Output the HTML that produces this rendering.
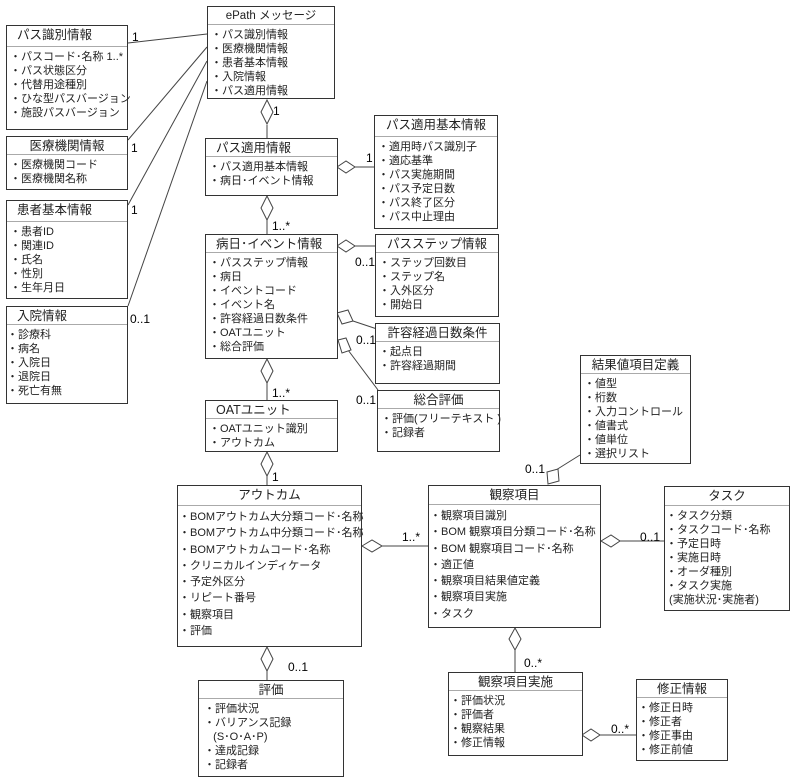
<!DOCTYPE html>
<html><head><meta charset="utf-8"><style>
body{margin:0;width:796px;height:777px;background:#fff;position:relative;overflow:hidden;font-family:"Liberation Sans","Noto Sans CJK JP",sans-serif;font-size:11px;color:#222}
.b{position:absolute;border:1.5px solid #333;background:#fff;box-sizing:border-box}
.t{font-size:12.5px;border-bottom:1px solid #aaa;padding:1px 0 0 10px;height:18px;box-sizing:border-box;line-height:16px;white-space:nowrap}
.c{text-align:center;padding-left:0}
.i{padding:3px 0 0 6px;line-height:14px;white-space:nowrap}
.i div:before{content:"・";margin-left:-3px}
.i div.n:before{content:"";}
.l{position:absolute;font-size:12px;color:#000}
svg{position:absolute;left:0;top:0}
</style></head><body>
<svg width="796" height="777">
<g stroke="#444" stroke-width="1" fill="#fff">
<line x1="207" y1="34" x2="128" y2="43"/>
<line x1="207" y1="47" x2="128" y2="140"/>
<line x1="207" y1="61" x2="128" y2="205"/>
<line x1="207" y1="81" x2="128" y2="306"/>
<line x1="267" y1="125" x2="267" y2="138"/>
<polygon points="267,100 273,112 267,124 261,112"/>
<line x1="355" y1="167" x2="374" y2="167"/>
<polygon points="337,167 346,161 355,167 346,173"/>
<line x1="267" y1="220" x2="267" y2="234"/>
<polygon points="267,196 273,208 267,220 261,208"/>
<line x1="355" y1="246" x2="375" y2="246"/>
<polygon points="337,246 346,240 355,246 346,252"/>
<line x1="353" y1="321" x2="377" y2="329"/>
<polygon points="337,313 348,310 353,321 342,324"/>
<line x1="348" y1="350" x2="378" y2="390"/>
<polygon points="338,340 346,338 351,350 342,353"/>
<line x1="267" y1="383" x2="267" y2="400"/>
<polygon points="267,359 273,371 267,383 261,371"/>
<line x1="267" y1="476" x2="267" y2="485"/>
<polygon points="267,452 273,464 267,476 261,464"/>
<line x1="382" y1="546" x2="428" y2="546"/>
<polygon points="362,546 372,540 382,546 372,552"/>
<line x1="556" y1="470" x2="580" y2="455"/>
<polygon points="547,472 558,469 559,481 548,484"/>
<line x1="620" y1="541" x2="664" y2="541"/>
<polygon points="601,541 611,535 620,541 611,547"/>
<line x1="515" y1="650" x2="515" y2="672"/>
<polygon points="515,628 521,639 515,650 509,639"/>
<line x1="267" y1="670" x2="267" y2="680"/>
<polygon points="267,647 273,659 267,671 261,659"/>
<line x1="600" y1="735" x2="636" y2="735"/>
<polygon points="582,735 591,729 600,735 591,741"/>
</g></svg>

<div class="b" style="left:207px;top:6px;width:128px;height:93px"><div class="t c" style="font-size:11.5px">ePath メッセージ</div><div class="i"><div>パス識別情報</div><div>医療機関情報</div><div>患者基本情報</div><div>入院情報</div><div>パス適用情報</div></div></div>
<div class="b" style="left:6px;top:25px;width:122px;height:105px"><div class="t" style="height:21px">パス識別情報</div><div class="i"><div>パスコード･名称 1..*</div><div>パス状態区分</div><div>代替用途種別</div><div>ひな型パスバージョン</div><div>施設パスバージョン</div></div></div>
<div class="b" style="left:6px;top:136px;width:122px;height:54px"><div class="t c">医療機関情報</div><div class="i"><div>医療機関コード</div><div>医療機関名称</div></div></div>
<div class="b" style="left:6px;top:200px;width:122px;height:99px"><div class="t" style="height:21px">患者基本情報</div><div class="i"><div>患者ID</div><div>関連ID</div><div>氏名</div><div>性別</div><div>生年月日</div></div></div>
<div class="b" style="left:6px;top:306px;width:122px;height:98px"><div class="t">入院情報</div><div class="i" style="padding-left:3px"><div>診療科</div><div>病名</div><div>入院日</div><div>退院日</div><div>死亡有無</div></div></div>
<div class="b" style="left:205px;top:138px;width:133px;height:58px"><div class="t">パス適用情報</div><div class="i"><div>パス適用基本情報</div><div>病日･イベント情報</div></div></div>
<div class="b" style="left:374px;top:115px;width:124px;height:114px"><div class="t c" style="height:21px">パス適用基本情報</div><div class="i"><div>適用時パス識別子</div><div>適応基準</div><div>パス実施期間</div><div>パス予定日数</div><div>パス終了区分</div><div>パス中止理由</div></div></div>
<div class="b" style="left:205px;top:234px;width:133px;height:125px"><div class="t">病日･イベント情報</div><div class="i"><div>パスステップ情報</div><div>病日</div><div>イベントコード</div><div>イベント名</div><div>許容経過日数条件</div><div>OATユニット</div><div>総合評価</div></div></div>
<div class="b" style="left:375px;top:234px;width:124px;height:83px"><div class="t c">パスステップ情報</div><div class="i"><div>ステップ回数目</div><div>ステップ名</div><div>入外区分</div><div>開始日</div></div></div>
<div class="b" style="left:375px;top:323px;width:125px;height:61px"><div class="t c">許容経過日数条件</div><div class="i"><div>起点日</div><div>許容経過期間</div></div></div>
<div class="b" style="left:377px;top:390px;width:123px;height:62px"><div class="t c">総合評価</div><div class="i"><div>評価(フリーテキスト )</div><div>記録者</div></div></div>
<div class="b" style="left:580px;top:355px;width:111px;height:109px"><div class="t c">結果値項目定義</div><div class="i"><div>値型</div><div>桁数</div><div>入力コントロール</div><div>値書式</div><div>値単位</div><div>選択リスト</div></div></div>
<div class="b" style="left:205px;top:400px;width:133px;height:52px"><div class="t">OATユニット</div><div class="i"><div>OATユニット識別</div><div>アウトカム</div></div></div>
<div class="b" style="left:177px;top:485px;width:185px;height:162px"><div class="t c" style="height:20px">アウトカム</div><div class="i" style="line-height:16.3px;padding-left:4px"><div>BOMアウトカム大分類コード･名称</div><div>BOMアウトカム中分類コード･名称</div><div>BOMアウトカムコード･名称</div><div>クリニカルインディケータ</div><div>予定外区分</div><div>リピート番号</div><div>観察項目</div><div>評価</div></div></div>
<div class="b" style="left:428px;top:485px;width:173px;height:143px"><div class="t c" style="height:19px">観察項目</div><div class="i" style="line-height:16.3px;padding-left:4px"><div>観察項目識別</div><div>BOM 観察項目分類コード･名称</div><div>BOM 観察項目コード･名称</div><div>適正値</div><div>観察項目結果値定義</div><div>観察項目実施</div><div>タスク</div></div></div>
<div class="b" style="left:664px;top:486px;width:126px;height:125px"><div class="t c" style="height:19px">タスク</div><div class="i" style="padding-left:4px"><div>タスク分類</div><div>タスクコード･名称</div><div>予定日時</div><div>実施日時</div><div>オーダ種別</div><div>タスク実施</div><div class="n">&nbsp;(実施状況･実施者)</div></div></div>
<div class="b" style="left:198px;top:680px;width:146px;height:97px"><div class="t c">評価</div><div class="i" style="padding-left:8px"><div>評価状況</div><div>バリアンス記録</div><div class="n">&nbsp;&nbsp;&nbsp;(S･O･A･P)</div><div>達成記録</div><div>記録者</div></div></div>
<div class="b" style="left:448px;top:672px;width:135px;height:84px"><div class="t c">観察項目実施</div><div class="i" style="padding-left:4px"><div>評価状況</div><div>評価者</div><div>観察結果</div><div>修正情報</div></div></div>
<div class="b" style="left:636px;top:679px;width:92px;height:82px"><div class="t c">修正情報</div><div class="i" style="padding-left:4px"><div>修正日時</div><div>修正者</div><div>修正事由</div><div>修正前値</div></div></div>

<div class="l" style="left:132px;top:30px">1</div>
<div class="l" style="left:131px;top:141px">1</div>
<div class="l" style="left:131px;top:203px">1</div>
<div class="l" style="left:130px;top:312px">0..1</div>
<div class="l" style="left:273px;top:104px">1</div>
<div class="l" style="left:366px;top:151px">1</div>
<div class="l" style="left:272px;top:219px">1..*</div>
<div class="l" style="left:355px;top:255px">0..1</div>
<div class="l" style="left:356px;top:333px">0..1</div>
<div class="l" style="left:356px;top:393px">0..1</div>
<div class="l" style="left:272px;top:386px">1..*</div>
<div class="l" style="left:272px;top:470px">1</div>
<div class="l" style="left:402px;top:530px">1..*</div>
<div class="l" style="left:525px;top:462px">0..1</div>
<div class="l" style="left:640px;top:530px">0..1</div>
<div class="l" style="left:524px;top:656px">0..*</div>
<div class="l" style="left:288px;top:660px">0..1</div>
<div class="l" style="left:611px;top:722px">0..*</div>
</body></html>
